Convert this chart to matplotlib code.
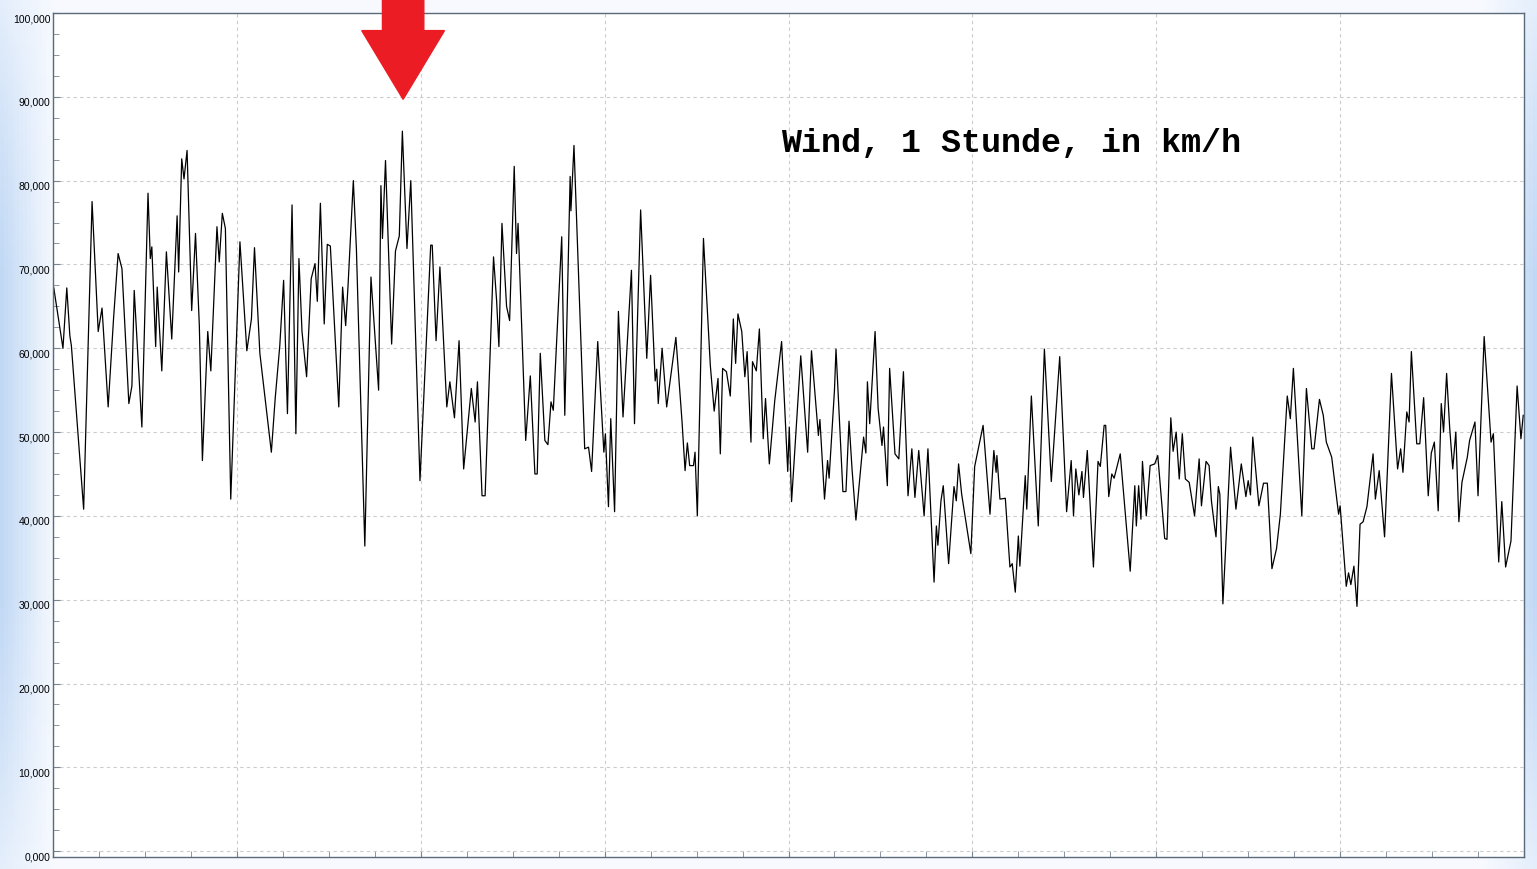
import numpy as np
import matplotlib
matplotlib.use('Agg')
import matplotlib.pyplot as plt
import matplotlib.transforms as mtransforms
from matplotlib.ticker import MultipleLocator, FuncFormatter
from matplotlib.patches import Polygon

# Zeit in Stunden, Wind in km/h
stunden = [
    0.1, 1.3, 1.8, 2.2, 2.4, 4.0, 5.1, 5.9, 6.4, 7.2, 7.9, 8.5, 9.0, 9.9, 10.3, 10.6,
    11.6, 12.4, 12.7, 12.9, 13.4, 13.6, 14.2, 14.8, 15.5, 16.2, 16.4, 16.8, 17.1, 17.5,
    18.1, 18.6, 19.1, 19.5, 20.2, 20.6, 21.4, 21.7, 22.1, 22.5, 23.2, 24.4, 25.3, 25.9,
    26.3, 27.0, 28.5, 29.0, 29.6, 30.1, 30.6, 31.2, 31.7, 32.1, 32.5, 33.1, 33.7, 34.2,
    34.5, 34.9, 35.4, 35.8, 36.2, 37.3, 37.8, 38.2, 38.5, 39.2, 39.6, 40.7, 41.5, 42.5,
    42.8, 43.0, 43.4, 44.2, 44.7, 45.2, 45.6, 46.2, 46.7, 47.9, 49.3, 49.5, 50.0, 50.5,
    51.4, 51.8, 52.4, 53.0, 53.6, 54.6, 55.1, 55.4, 56.0, 56.4, 57.5, 57.9, 58.2, 58.6,
    59.2, 59.6, 60.2, 60.5, 60.7, 61.7, 62.3, 62.9, 63.2, 63.6, 64.2, 64.6, 65.0, 65.3,
    66.4, 66.8, 67.5, 67.6, 68.0, 69.4, 69.9, 70.3, 71.1, 71.9, 72.1, 72.5, 72.8, 73.3,
    73.8, 74.4, 75.5, 75.9, 76.7, 77.5, 78.0, 78.6, 78.8, 79.0, 79.5, 80.1, 80.8, 81.3,
    82.1, 82.5, 82.8, 83.1, 83.6, 83.8, 84.1, 84.9, 85.8, 86.3, 86.8, 87.1, 87.4, 87.9,
    88.4, 88.8, 89.1, 89.4, 89.9, 90.3, 90.6, 91.1, 91.3, 91.8, 92.2, 92.7, 93.0, 93.5,
    94.2, 95.1, 95.9, 96.1, 96.4, 97.6, 98.5, 99.0, 99.9, 100.1, 100.7, 101.1, 101.3, 102.0,
    102.2, 103.1, 103.5, 103.9, 104.3, 104.8, 105.8, 106.1, 106.3, 106.6, 107.3, 107.7, 108.2, 108.4,
    108.9, 109.2, 109.9, 110.4, 111.0, 111.6, 112.1, 112.5, 113.0, 113.7, 114.2, 115.0, 115.3, 115.5,
    115.9, 116.2, 116.9, 117.6, 117.9, 118.2, 118.6, 119.8, 120.3, 121.4, 122.3, 122.8, 123.1, 123.2,
    123.6, 124.3, 124.9, 125.2, 125.6, 126.0, 126.2, 126.9, 127.1, 127.7, 128.6, 129.4, 130.3, 131.4,
    132.3, 132.9, 133.2, 133.5, 133.9, 134.3, 134.5, 135.0, 135.8, 136.4, 136.7, 137.2, 137.4, 137.8,
    138.2, 138.5, 139.3, 140.6, 141.2, 141.4, 141.7, 142.0, 142.2, 142.7, 143.2, 143.8, 144.2, 145.1,
    145.4, 145.9, 146.2, 146.6, 147.0, 147.4, 147.8, 148.3, 149.0, 149.6, 149.9, 150.5, 150.9, 151.2,
    151.6, 151.8, 152.1, 152.3, 152.7, 153.7, 154.4, 155.1, 155.7, 156.0, 156.3, 156.6, 157.4, 158.0,
    158.5, 159.1, 159.7, 160.2, 161.1, 161.5, 161.9, 162.4, 163.0, 163.6, 164.3, 164.6, 165.3, 165.8,
    166.2, 166.9, 167.8, 168.0, 168.8, 169.1, 169.4, 169.8, 170.2, 170.6, 171.0, 171.5, 172.3, 172.6,
    173.1, 173.8, 174.2, 174.7, 175.5, 175.9, 176.2, 176.7, 177.0, 177.3, 178.0, 178.4, 178.9, 179.5,
    179.9, 180.3, 180.8, 181.2, 181.5, 181.9, 182.3, 182.7, 183.1, 183.5, 183.9, 184.6, 184.9, 185.6,
    186.0, 186.8, 187.7, 188.0, 188.7, 189.1, 189.6, 190.3, 191.1, 191.6, 191.9,
]
wind = [
    67.2, 60.0, 67.2, 61.5, 60.3, 40.8, 77.5, 62.0, 64.8, 53.0, 63.5, 71.3, 69.5, 53.4, 55.5, 66.9,
    50.6, 78.5, 70.7, 72.1, 60.2, 67.3, 57.3, 71.5, 61.1, 75.8, 69.1, 82.6, 80.2, 83.6,
    64.5, 73.7, 62.7, 46.6, 62.0, 57.3, 74.5, 70.3, 76.1, 74.3, 42.0, 72.7, 59.7, 63.5,
    72.0, 59.4, 47.6, 54.0, 60.3, 68.1, 52.2, 77.1, 49.8, 70.7, 62.0, 56.6, 68.3, 70.1,
    65.6, 77.3, 62.9, 72.4, 72.2, 53.0, 67.3, 62.7, 67.3, 80.0, 71.9, 36.4, 68.5, 55.0,
    79.4, 73.1, 82.4, 60.5, 71.6, 73.4, 85.9, 71.9, 80.0, 44.2, 72.3, 72.3, 60.9, 69.7,
    53.0, 56.0, 51.7, 60.9, 45.6, 55.2, 51.2, 56.0, 42.4, 42.4, 70.9, 65.7, 60.2, 74.9,
    65.0, 63.3, 81.7, 71.3, 74.9, 49.0, 56.7, 45.0, 45.0, 59.4, 49.0, 48.5, 53.6, 52.6,
    73.3, 52.0, 80.5, 76.4, 84.2, 48.0, 48.2, 45.3, 60.8, 47.6, 49.8, 41.1, 51.6, 40.5,
    64.4, 51.8, 69.3, 51.0, 76.5, 58.8, 68.7, 56.1, 57.5, 53.4, 60.0, 53.0, 57.9, 61.3,
    51.3, 45.4, 48.7, 46.0, 46.0, 47.6, 40.0, 73.1, 57.9, 52.5, 56.4, 47.4, 57.6, 57.2,
    54.3, 63.5, 58.2, 64.1, 62.0, 56.6, 59.6, 48.8, 58.4, 57.3, 62.3, 49.2, 54.0, 46.2,
    53.7, 60.8, 45.3, 50.6, 41.7, 59.1, 47.6, 59.7, 49.6, 51.5, 42.0, 46.6, 44.5, 55.0,
    59.9, 42.9, 42.9, 51.3, 45.5, 39.5, 49.4, 47.5, 56.0, 51.0, 62.0, 52.8, 48.4, 50.6,
    43.6, 57.6, 47.4, 46.8, 57.2, 42.4, 48.0, 42.2, 47.8, 40.0, 48.0, 32.1, 38.8, 36.5,
    41.8, 43.6, 34.3, 43.5, 41.8, 46.2, 42.6, 35.5, 45.9, 50.8, 40.2, 47.8, 45.2, 47.2,
    42.0, 42.1, 33.9, 34.3, 30.9, 37.6, 34.0, 44.8, 40.8, 54.3, 38.8, 59.9, 44.1, 59.0,
    40.5, 46.6, 40.0, 45.6, 42.5, 45.3, 42.2, 47.8, 33.9, 46.5, 45.9, 50.8, 50.8, 42.3,
    45.0, 44.5, 47.4, 33.4, 43.6, 38.8, 43.6, 39.6, 46.5, 40.0, 46.0, 46.2, 47.2, 37.3,
    37.2, 51.7, 47.7, 50.0, 44.4, 49.8, 44.4, 44.0, 40.0, 46.8, 41.2, 46.5, 46.0, 41.8,
    38.8, 37.5, 43.5, 42.6, 29.5, 48.2, 40.8, 46.2, 42.3, 44.2, 42.5, 49.4, 41.2, 43.9,
    43.9, 33.7, 36.1, 40.2, 54.3, 51.6, 57.6, 49.6, 40.0, 55.2, 48.0, 48.0, 53.9, 52.0,
    48.8, 47.0, 40.2, 41.2, 31.6, 33.2, 31.8, 34.0, 29.2, 39.0, 39.3, 41.1, 47.4, 42.0,
    45.4, 37.5, 46.0, 57.0, 45.6, 48.0, 45.2, 52.4, 51.2, 59.6, 48.6, 48.6, 54.1, 42.4,
    47.5, 48.8, 40.6, 53.4, 50.0, 57.0, 50.5, 45.6, 50.0, 39.3, 44.0, 47.0, 49.0, 51.2,
    42.4, 61.4, 48.8, 49.8, 34.5, 41.7, 33.9, 37.0, 55.5, 49.2, 52.0,
]
titel = "Wind, 1 Stunde, in km/h"

fig = plt.figure(figsize=(15.37, 8.70), dpi=100)

# Hintergrund mit blauem Verlauf an den Raendern
bg = fig.add_axes([0, 0, 1, 1], zorder=-10)
gx = np.linspace(0, 1, 400)
gy = np.linspace(0, 1, 200)
X, Y = np.meshgrid(gx, gy)
edge = np.clip(1 - np.minimum(X, 1 - X) / 0.035, 0, 1)
vert = np.clip(np.sin(np.pi * Y) * 1.2, 0, 1)
amt = edge * (0.35 + 0.65 * vert)
c_white = np.array([0.97, 0.98, 1.0])
c_blue = np.array([0.76, 0.85, 0.96])
img = c_white[None, None, :] * (1 - amt[..., None]) + c_blue[None, None, :] * amt[..., None]
bg.imshow(img, aspect='auto', extent=[0, 1, 0, 1], origin='lower')
bg.axis('off')

ax = fig.add_axes([53 / 1537, 1 - 858 / 870, 1471 / 1537, 844 / 870])
ax.set_facecolor('white')
ax.plot(stunden, wind, color='black', lw=0.9)

ax.set_xlim(0, 192)
ax.set_ylim(-0.7, 100)
ax.xaxis.set_major_locator(MultipleLocator(24))
ax.xaxis.set_minor_locator(MultipleLocator(6))
ax.yaxis.set_major_locator(MultipleLocator(10))
ax.yaxis.set_minor_locator(MultipleLocator(2.5))
ax.yaxis.set_major_formatter(FuncFormatter(lambda v, p: f"{v:.3f}".replace('.', ',')))
ax.set_xticklabels([])
ax.tick_params(axis='both', which='both', direction='in', color='#7a8590')
ax.tick_params(axis='y', which='major', length=5, labelsize=7.5, pad=2)
ax.tick_params(axis='y', which='minor', length=4)
ax.tick_params(axis='x', which='both', length=4)
ax.grid(True, which='major', color='#cccccc', ls=(0, (3, 3)), lw=0.8)
for s in ax.spines.values():
    s.set_color('#5b6b7b')
    s.set_linewidth(1.0)

# Beschriftungen etwas tiefer setzen wie im Original
shift = mtransforms.ScaledTranslation(0, -4 / 100, fig.dpi_scale_trans)
for lab in ax.get_yticklabels():
    lab.set_family(['Liberation Sans', 'DejaVu Sans'])
    lab.set_transform(lab.get_transform() + shift)

ax.text(0.651, 0.847, titel, transform=ax.transAxes, ha='center', va='center',
        fontsize=24, fontweight='bold', family=['Liberation Mono', 'DejaVu Sans Mono'])

# roter Pfeil auf das Maximum
tip_x, tip_y = 45.7, 89.7
pfeil = Polygon([[tip_x - 2.7, 102.5], [tip_x + 2.7, 102.5], [tip_x + 2.7, 97.9],
                 [tip_x + 5.4, 97.9], [tip_x, tip_y], [tip_x - 5.4, 97.9], [tip_x - 2.7, 97.9]],
                closed=True, color='#ec1c24', clip_on=False, zorder=5)
ax.add_patch(pfeil)

plt.savefig('out.png', dpi=100)
